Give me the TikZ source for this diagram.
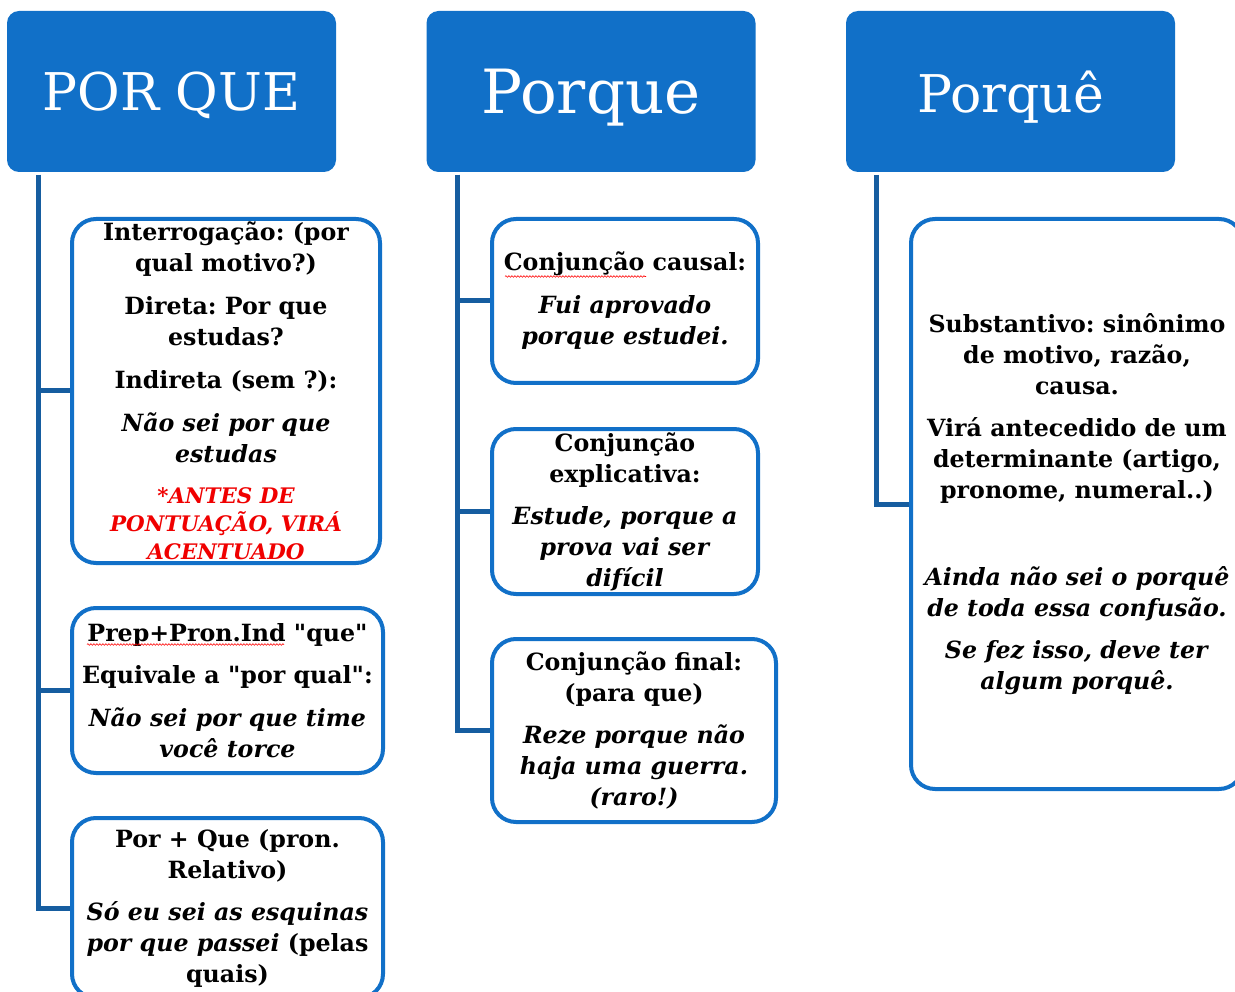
\documentclass[tikz,border=0pt]{standalone}
\usepackage{fontspec}
\setmainfont{DejaVu Serif}
\usetikzlibrary{decorations.pathmorphing}
\definecolor{hblue}{HTML}{1170C8}
\definecolor{cblue}{HTML}{165DA0}
\definecolor{wred}{HTML}{F00000}
\newcommand\redline[1]{\textcolor{wred}{\fontsize{21.4}{28}\selectfont\itshape #1}}
\newcommand\dq{\XeTeXglyph\XeTeXcharglyph"22\relax}
\frenchspacing
\begin{document}
\begin{tikzpicture}[x=1pt,y=-1pt,
  head/.style={fill=hblue, rounded corners=12pt, minimum width=329pt, minimum height=161pt,
               text=white, text depth=0pt, inner sep=0pt},
  tbox/.style={draw=hblue, line width=4pt, fill=white, rounded corners=24pt, align=center,
               inner sep=0pt, font=\bfseries\fontsize{23.7}{31}\selectfont\frenchspacing},
  conn/.style={draw=cblue, line width=5pt},
  spell/.style={draw=red, line width=0.6pt, decorate, decoration={snake, amplitude=0.8pt, segment length=3pt}}]
\clip (0,0) rectangle (1235,992);

% headers
\node[head, font=\fontsize{52}{60}\selectfont] (h1) at (171.5,91.5) {POR QUE};
\node[head, font=\fontsize{61}{70}\selectfont] (h2) at (591,91.5) {Porque};
\node[head, font=\fontsize{52}{60}\selectfont] (h3) at (1010.5,91.5) {Porquê};

% trunk tops
\coordinate (t1) at (38,175);
\coordinate (t2) at (457,175);
\coordinate (t3) at (876,175);

% left column boxes
\node[tbox, minimum width=308pt, minimum height=344pt] (l1) at (226,391)
  {Interrogação: (por\\qual motivo?)\\[12pt]Direta: Por que\\estudas?\\[12pt]Indireta (sem ?):\\[12pt]\textit{Não sei por que}\\\textit{estudas}\\[10pt]\redline{*ANTES DE}\\[-3pt]\redline{PONTUAÇÃO, VIRÁ}\\[-3pt]\redline{ACENTUADO}};
\node[tbox, minimum width=311pt, minimum height=165pt] (l2) at (227.5,690.5)
  {Prep+Pron.Ind \dq que\dq\\[11pt]Equivale a \dq por qual\dq:\\[12pt]\textit{Não sei por que time}\\\textit{você torce}};
\node[tbox, minimum width=311pt, minimum height=180pt] (l3) at (227.5,908)
  {Por + Que (pron.\\Relativo)\\[11pt]\textit{Só eu sei as esquinas}\\\textit{por que passei} (pelas\\quais)};

% middle column boxes
\node[tbox, minimum width=266pt, minimum height=164pt] (m1) at (625,301)
  {Conjunção causal:\\[12pt]\textit{Fui aprovado}\\\textit{porque estudei.}};
\node[tbox, minimum width=266pt, minimum height=165pt] (m2) at (625,511.5)
  {Conjunção\\explicativa:\\[11pt]\textit{Estude, porque a}\\\textit{prova vai ser}\\\textit{difícil}};
\node[tbox, minimum width=284pt, minimum height=183pt] (m3) at (634,730.5)
  {Conjunção final:\\(para que)\\[11pt]\textit{Reze porque não}\\\textit{haja uma guerra.}\\\textit{(raro!)}};

% right column box
\node[tbox, minimum width=332pt, minimum height=570pt] (r1) at (1077,504)
  {Substantivo: sinônimo\\de motivo, razão,\\causa.\\[11pt]Virá antecedido de um\\determinante (artigo,\\pronome, numeral..)\\[56pt]\textit{Ainda não sei o porquê}\\\textit{de toda essa confusão.}\\[11pt]\textit{Se fez isso, deve ter}\\\textit{algum porquê.}};

% spell-check underlines
\draw[spell] (505,276.5) -- (646,276.5);
\draw[spell] (87,644.5) -- (284,644.5);

% connectors
\draw[conn] (t1) |- (l1.west);
\draw[conn] (t1) |- (l2.west);
\draw[conn] (t1) |- (l3.west);
\draw[conn] (t2) |- (m1.west);
\draw[conn] (t2) |- (m2.west);
\draw[conn] (t2) |- (m3.west);
\draw[conn] (t3) |- (r1.west);
\end{tikzpicture}
\end{document}
